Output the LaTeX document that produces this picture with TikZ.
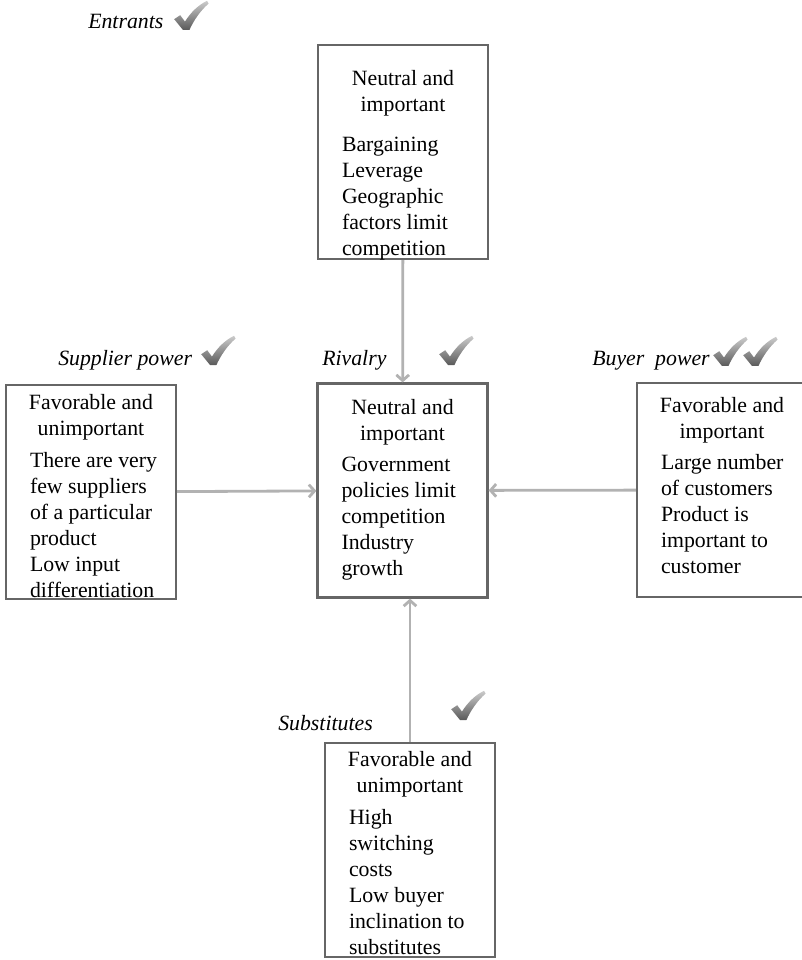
\documentclass[tikz,border=0pt]{standalone}
\usepackage{fontspec}
\setmainfont{Liberation Serif}
\usetikzlibrary{arrows.meta}

\newlength{\forceboxh}
\setlength{\forceboxh}{5.35cm}
% heading centred, items flush left below it
\newcommand{\forcetext}[3][7pt]{%
  \parbox[c][\forceboxh][t]{3.35cm}{\vspace*{#1}%
    \centering #2\par\vspace{4pt}%
    \raggedright\leftskip=0.15cm #3\par}}

\begin{document}
\begin{tikzpicture}[
    >={Straight Barb[length=4pt,width=9pt]},
    force/.style={draw=black!60, line width=1.6pt, inner xsep=0.45cm, inner ysep=0pt,
      font=\fontsize{15.5}{18.5}\selectfont},
    forcename/.style={anchor=base west, inner sep=0pt,
      font=\fontsize{15.5}{18.5}\selectfont\itshape},
    link/.style={->, draw=black!30, line width=2pt},
    checkmark/.pic={
      \shade[top color=black!20, bottom color=black!65]
        (0,0) -- (-0.22,0.27) -- (-0.07,0.37) -- (0.05,0.21)
        .. controls (0.2,0.45) and (0.38,0.62) .. (0.6,0.73)
        -- (0.64,0.66) .. controls (0.43,0.48) and (0.27,0.24) .. (0.16,0) -- cycle;
    }
  ]
  \useasboundingbox (0,0) rectangle (20.025,-24);

  \node[force] (entr) at (10.075,-3.8)
    {\forcetext[18pt]{Neutral and\\important}{\vspace*{6pt}Bargaining\\Leverage\\Geographic\\factors limit\\competition}};
  \node[force] (supp) at (2.275,-12.3)
    {\forcetext{Favorable and\\unimportant}{There are very\\few suppliers\\of a particular\\product\\Low input\\differentiation}};
  \node[force] (rival) at (10.0625,-12.2625)
    {\forcetext[11pt]{Neutral and\\important}{Government\\policies limit\\competition\\Industry\\growth}};
  \node[force] (buyer) at (18.05,-12.25)
    {\forcetext[10pt]{Favorable and\\important}{Large number\\of customers\\Product is\\important to\\customer}};
  \node[force] (subst) at (10.25,-21.25)
    {\forcetext[6pt]{Favorable and\\unimportant}{High\\switching\\costs\\Low buyer\\inclination to\\substitutes}};

  \node[forcename] (entrname) at (2.2,-0.725) {Entrants};
  \node[forcename] (suppname) at (1.45,-9.15) {Supplier power};
  \node[forcename] (rivalname) at (8.05,-9.125) {Rivalry};
  \node[forcename] (buyername) at (14.8,-9.15) {Buyer\ \ power};
  \node[forcename] (substname) at (6.95,-18.25) {Substitutes};

  \pic at (4.575,-0.75) {checkmark};
  \pic at (5.25,-9.125) {checkmark};
  \pic at (11.2,-9.125) {checkmark};
  \pic at (18.05,-9.15) {checkmark};
  \pic at (18.8,-9.15) {checkmark};
  \pic at (11.5,-18) {checkmark};

  \draw[link] (entr) -- (rival);
  \draw[link] (supp) -- (rival);
  \draw[link] (buyer) -- (rival);
  \draw[link] (subst.north) -- (subst.north |- rival.south);
\end{tikzpicture}
\end{document}
